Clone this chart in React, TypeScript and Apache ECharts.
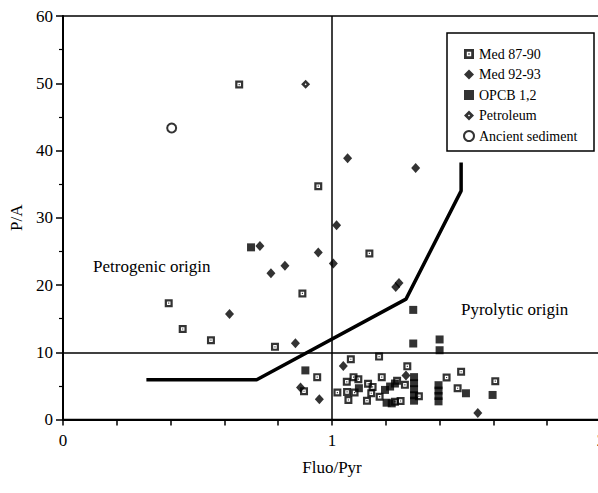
import React, { useEffect, useRef } from "react";
import * as echarts from "echarts";

// ---- data ----
const SERIES_NAMES = ["Med 87-90", "Med 92-93", "OPCB 1,2", "Petroleum", "Ancient sediment"];

const MED8790_X = [0.655, 0.949, 1.139, 0.890, 0.393, 0.445, 0.550, 0.788, 0.896, 0.945, 1.070, 1.175, 1.055, 1.080, 1.098, 1.020, 1.056, 1.084, 1.061, 1.134, 1.151, 1.146, 1.130, 1.177, 1.185, 1.242, 1.271, 1.280, 1.234, 1.255, 1.323, 1.426, 1.480, 1.467, 1.607];
const MED8790_Y = [49.8, 34.7, 24.7, 18.75, 17.3, 13.45, 11.8, 10.8, 4.2, 6.3, 8.95, 9.35, 5.6, 6.3, 6.0, 4.0, 4.1, 4.0, 2.9, 5.3, 4.85, 3.9, 2.8, 3.4, 6.3, 5.75, 5.15, 7.9, 2.65, 2.75, 3.45, 6.25, 7.1, 4.65, 5.7];

const MED9293_X = [1.058, 1.311, 1.017, 0.732, 0.949, 1.005, 0.825, 0.773, 1.237, 1.249, 0.619, 0.864, 1.042, 1.275, 0.883, 0.953, 1.542];
const MED9293_Y = [38.85, 37.4, 28.9, 25.8, 24.85, 23.2, 22.85, 21.75, 19.7, 20.3, 15.7, 11.35, 7.95, 6.55, 4.75, 3.0, 0.95];

const OPCB_X = [0.699, 1.302, 1.302, 1.400, 1.400, 0.901, 1.100, 1.197, 1.216, 1.234, 1.203, 1.222, 1.305, 1.305, 1.305, 1.305, 1.305, 1.396, 1.396, 1.396, 1.396, 1.498, 1.597];
const OPCB_Y = [25.6, 16.3, 11.3, 11.9, 10.3, 7.3, 4.65, 4.4, 4.9, 5.35, 2.5, 2.4, 6.3, 5.4, 4.5, 3.6, 2.8, 5.1, 4.3, 3.5, 2.7, 3.9, 3.65];

const PETROLEUM_X = [0.902];
const PETROLEUM_Y = [49.85];

const ANCIENT_X = [0.404];
const ANCIENT_Y = [43.35];

const BOUNDARY_X = [0.31, 0.72, 1.275, 1.48, 1.48];
const BOUNDARY_Y = [5.9, 5.9, 17.9, 34.0, 38.2];

const X_MIN = 0, X_MAX = 2, X_STEP = 0.2;
const Y_MIN = 0, Y_MAX = 60, Y_STEP = 10;
const H_REF = 10;
const V_REF = 1;

const zip = (xs: number[], ys: number[]) => xs.map((x, i) => [x, ys[i]]);

const FONT = "'Liberation Serif', 'Times New Roman', serif";

const MED8790_SYMBOL =
  "path://M0,0H10V10H0Z M2.8,2.8V7.2H7.2V2.8Z M4.3,4.3H5.7V5.7H4.3Z";
const PETROLEUM_SYMBOL =
  "path://M5,0L10,5L5,10L0,5Z M5,3.9L3.9,5L5,6.1L6.1,5Z";

export default function App() {
  const ref = useRef<HTMLDivElement>(null);

  useEffect(() => {
    document.body.style.margin = "0";
    if (!ref.current) return;
    const chart = echarts.init(ref.current, undefined, { renderer: "svg" });

    const option: any = {
      animation: false,
      backgroundColor: "#fff",
      textStyle: { fontFamily: FONT, color: "#000" },
      grid: {
        left: 63,
        top: 16,
        right: -3,
        bottom: 73.5,
        containLabel: false,
        outerBoundsMode: "none",
        show: true,
        borderColor: "#000",
        borderWidth: 1.5,
        backgroundColor: "transparent",
      },
      xAxis: {
        type: "value",
        min: X_MIN,
        max: X_MAX,
        interval: X_STEP,
        name: "Fluo/Pyr",
        nameLocation: "middle",
        nameGap: 39,
        nameTextStyle: { fontFamily: FONT, fontSize: 17, color: "#000" },
        axisLine: { show: true, onZero: false, lineStyle: { color: "#000", width: 2 } },
        axisTick: { show: true, length: 6, lineStyle: { color: "#000", width: 1.5 } },
        axisLabel: {
          margin: 12,
          fontFamily: FONT,
          fontSize: 17,
          color: "#000",
          showMinLabel: true,
          showMaxLabel: true,
          hideOverlap: false,
          formatter: (v: number) =>
            Math.abs(v - Math.round(v)) < 1e-6 ? String(Math.round(v)) : "",
        },
        splitLine: { show: false },
      },
      yAxis: {
        type: "value",
        min: Y_MIN,
        max: Y_MAX,
        interval: Y_STEP,
        name: "P/A",
        nameLocation: "middle",
        nameRotate: 90,
        nameGap: 36,
        nameTextStyle: { fontFamily: FONT, fontSize: 17, color: "#000" },
        axisLine: { show: true, onZero: false, lineStyle: { color: "#000", width: 2 } },
        axisTick: { show: true, length: 7, lineStyle: { color: "#000", width: 1.5 } },
        minorTick: { show: true, splitNumber: 2, length: 4, lineStyle: { color: "#000", width: 1.2 } },
        axisLabel: { margin: 10, fontFamily: FONT, fontSize: 17, color: "#000" },
        splitLine: { show: false },
      },
      legend: {
        data: SERIES_NAMES,
        orient: "vertical",
        left: 458,
        top: 41,
        itemWidth: 10,
        itemHeight: 10,
        itemGap: 4.5,
        itemTextGap: 12,
        textStyle: { fontFamily: FONT, fontSize: 14, color: "#000", lineHeight: 16 },
        selectedMode: false,
      },
      graphic: [
        {
          type: "rect",
          shape: { x: 447, y: 33, width: 147, height: 118 },
          style: { fill: "#fff", stroke: "#000", lineWidth: 1.5 },
          z: 0,
          silent: true,
        },
        {
          type: "text",
          left: 93,
          top: 258,
          style: { text: "Petrogenic origin", font: `17px ${FONT}`, fill: "#000" },
          silent: true,
        },
        {
          type: "text",
          left: 461,
          top: 301,
          style: { text: "Pyrolytic origin", font: `17px ${FONT}`, fill: "#000" },
          silent: true,
        },
      ],
      series: [
        {
          name: "boundary",
          type: "line",
          data: zip(BOUNDARY_X, BOUNDARY_Y),
          symbol: "none",
          lineStyle: { color: "#000", width: 3.5 },
          silent: true,
          z: 2,
          markLine: {
            silent: true,
            symbol: "none",
            label: { show: false },
            lineStyle: { color: "#000", width: 1.5, type: "solid" },
            data: [
              [{ coord: [X_MIN, H_REF] }, { coord: [X_MAX, H_REF] }],
              [{ coord: [V_REF, Y_MIN] }, { coord: [V_REF, Y_MAX] }],
            ],
          },
        },
        {
          name: "Med 87-90",
          type: "scatter",
          data: zip(MED8790_X, MED8790_Y),
          symbol: MED8790_SYMBOL,
          symbolSize: 8,
          itemStyle: { color: "#000" },
          z: 3,
        },
        {
          name: "Med 92-93",
          type: "scatter",
          data: zip(MED9293_X, MED9293_Y),
          symbol: "diamond",
          symbolSize: [9, 10],
          itemStyle: { color: "#000" },
          z: 3,
        },
        {
          name: "OPCB 1,2",
          type: "scatter",
          data: zip(OPCB_X, OPCB_Y),
          symbol: "rect",
          symbolSize: 8,
          itemStyle: { color: "#000" },
          z: 3,
        },
        {
          name: "Petroleum",
          type: "scatter",
          data: zip(PETROLEUM_X, PETROLEUM_Y),
          symbol: PETROLEUM_SYMBOL,
          symbolSize: 9,
          itemStyle: { color: "#000" },
          z: 3,
        },
        {
          name: "Ancient sediment",
          type: "scatter",
          data: zip(ANCIENT_X, ANCIENT_Y),
          symbol: "circle",
          symbolSize: 9,
          itemStyle: { color: "#fff", borderColor: "#000", borderWidth: 2 },
          z: 3,
        },
      ],
    };

    chart.setOption(option);
    return () => chart.dispose();
  }, []);

  return <div ref={ref} style={{ width: 598, height: 493 }} />;
}
